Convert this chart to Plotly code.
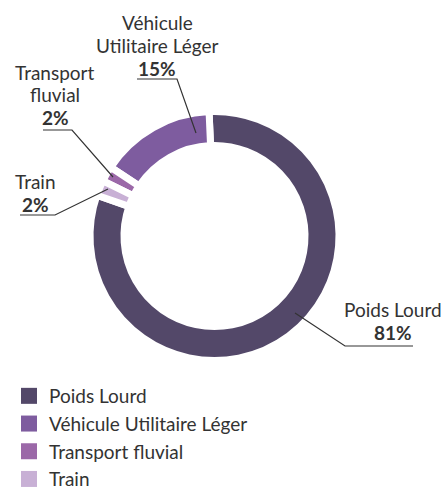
import plotly.graph_objects as go

# ---- data ----
categories = ["Poids Lourd", "Véhicule Utilitaire Léger", "Transport fluvial", "Train"]
label_lines = [["Poids Lourd"], ["Véhicule", "Utilitaire Léger"], ["Transport", "fluvial"], ["Train"]]
shares = [81, 15, 2, 2]
colors = ["#534869", "#7E5C9F", "#9B68A8", "#C8B0D5"]

W, H = 446, 492          # visible window
HF = 505                 # figure height
FONT = "Lato"
FS = 19
TXT = "#333333"

def px(x):
    return x / W

def py(y):
    return 1 - y / HF

fig = go.Figure()

# donut
cx, cy, r = 214.5, 236, 124.5
fig.add_trace(go.Pie(
    labels=categories,
    values=shares,
    sort=False,
    direction="counterclockwise",
    rotation=-2.5,
    hole=0.727,
    marker=dict(colors=colors, line=dict(color="white", width=7)),
    textinfo="none",
    hoverinfo="label+percent",
    showlegend=False,
    domain=dict(x=[px(cx - r), px(cx + r)], y=[py(cy + r), py(cy - r)]),
))

# legend entries
for i, (c, col) in enumerate(zip(categories, colors)):
    fig.add_trace(go.Scatter(
        x=[None], y=[None], mode="markers", name=c,
        marker=dict(symbol="square", size=16, color=col),
        legendgroup=f"g{i}", showlegend=True, hoverinfo="skip",
    ))

# label placement (layout, px): centre x, first-line y, line step
label_pos = [(392.5, 309), (157, 22.5), (55, 72), (35, 181)]
STEP = 23
leaders = [
    [(295, 313), (345, 346), (413, 346)],
    [(196, 133), (177, 79), (137, 79)],
    [(113, 177), (72, 130), (43, 130)],
    [(108, 189), (55, 215), (20, 215)],
]

annotations = []
shapes = []
for lines, val, (lx, ly), pts in zip(label_lines, shares, label_pos, leaders):
    texts = list(lines) + [f"<b>{val}%</b>"]
    for k, t in enumerate(texts):
        annotations.append(dict(
            x=px(lx), y=py(ly + k * STEP), xref="paper", yref="paper",
            text=t, showarrow=False,
            font=dict(family=FONT, size=FS, color=TXT),
            xanchor="center", yanchor="middle", align="center",
        ))
    path = "M " + " L ".join(f"{px(x)},{py(y)}" for x, y in pts)
    shapes.append(dict(type="path", path=path, xref="paper", yref="paper",
                       line=dict(color="#333333", width=1.2)))

fig.update_layout(
    width=W, height=HF,
    margin=dict(l=0, r=0, t=0, b=0, autoexpand=False),
    paper_bgcolor="white", plot_bgcolor="white",
    font=dict(family=FONT, size=19, color=TXT),
    xaxis=dict(visible=False, domain=[0, 0.01]),
    yaxis=dict(visible=False, domain=[0, 0.01]),
    showlegend=True,
    legend=dict(
        x=px(9), y=py(377), xanchor="left", yanchor="top",
        font=dict(family=FONT, size=19, color=TXT),
        traceorder="grouped", tracegroupgap=0,
        bgcolor="rgba(0,0,0,0)", itemclick=False, itemdoubleclick=False,
    ),
    annotations=annotations,
    shapes=shapes,
)

fig.write_html("out.html", config={"displayModeBar": False},
               post_script="document.body.style.margin='0';document.body.style.overflow='hidden';")
